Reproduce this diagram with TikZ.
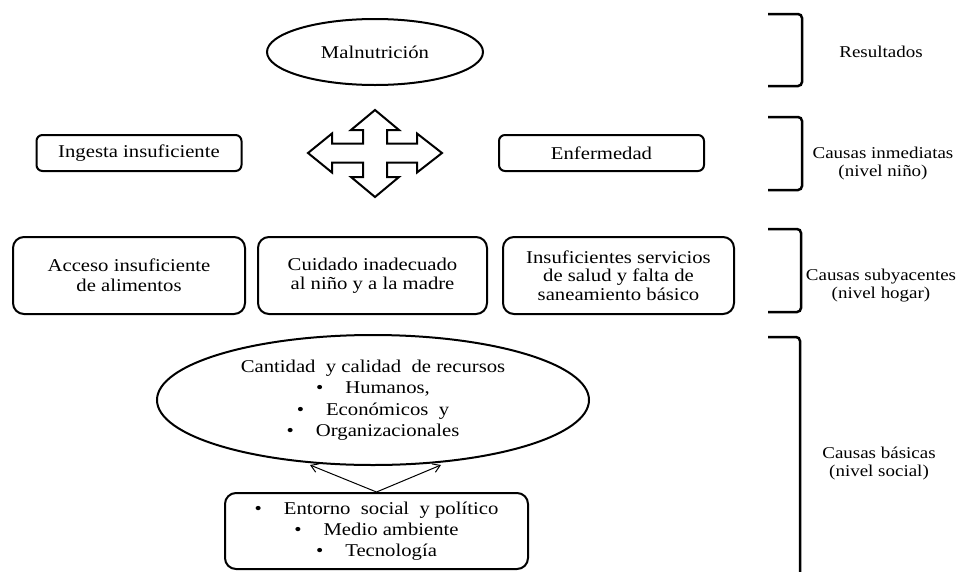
\documentclass[tikz,border=0pt]{standalone}
\usepackage{fontspec}
\setmainfont{Liberation Serif}[FakeStretch=1.15]
\usetikzlibrary{shapes.geometric,arrows.meta}
\begin{document}
\begin{tikzpicture}[x=1pt,y=-1pt,
  every node/.style={font=\fontsize{18}{19}\selectfont, align=center, inner sep=0pt},
  lbox/.style={draw, line width=2pt, rounded corners=6pt},
  bbox/.style={draw, line width=2pt, rounded corners=11pt},
  oval/.style={draw, ellipse, line width=2pt},
  brk/.style={line width=2.5pt, rounded corners=4pt},
  side/.style={font=\fontsize{16.5}{18}\selectfont},
  conn/.style={line width=1pt, -{Straight Barb[length=7pt,width=9pt]}}
]
\useasboundingbox (0,0) rectangle (958,571);

% top ellipse
\node[oval, minimum width=216pt, minimum height=66pt] (mal) at (375,52) {Malnutrición};

% level 2
\node[lbox, minimum width=205pt, minimum height=36pt] (ing) at (139,153) {Ingesta insuficiente};
\node[lbox, minimum width=205pt, minimum height=36pt] (enf) at (601.5,153) {Enfermedad};

% four-way arrow
\draw[line width=2pt, line join=miter]
 (375,110) -- (399,130) -- (387,130) -- (387,143.5) -- (417,143.5) -- (417,133.5) -- (442,153)
 -- (417,172.5) -- (417,162.5) -- (387,162.5) -- (387,177) -- (399,177) -- (375,197)
 -- (351,177) -- (363,177) -- (363,162.5) -- (332,162.5) -- (332,172.5) -- (308,153)
 -- (332,133.5) -- (332,143.5) -- (363,143.5) -- (363,130) -- (351,130) -- cycle;

% level 3
\node[bbox, minimum width=232pt, minimum height=77pt, font=\fontsize{18}{20}\selectfont] (acc) at (129,275.5) {Acceso insuficiente\\de alimentos};
\node[bbox, minimum width=229pt, minimum height=77pt, font=\fontsize{18}{19}\selectfont] (cui) at (372.5,275.5) {Cuidado inadecuado\\al niño y a la madre};
\node[bbox, minimum width=231pt, minimum height=77pt, font=\fontsize{18}{18.3}\selectfont] (ins) at (618.5,275.5) {Insuficientes servicios\\de salud y falta de\\saneamiento básico};

% basic causes
\node[oval, minimum width=432pt, minimum height=130pt, font=\fontsize{18}{21.5}\selectfont] (rec) at (373,400) {Cantidad\ \ y calidad\ \ de recursos\\\textbullet\hspace{22pt}Humanos,\\\textbullet\hspace{22pt}Económicos\ \ y\\\textbullet\hspace{22pt}Organizacionales};

\node[bbox, minimum width=303pt, minimum height=76pt, font=\fontsize{18}{21}\selectfont] (ent) at (376.5,531) {\textbullet\hspace{22pt}Entorno\ \ social\ \ y político\\\textbullet\hspace{22pt}Medio ambiente\\\textbullet\hspace{22pt}Tecnología};

\coordinate (tipL) at (310,465);
\coordinate (tipR) at (441,465);
\draw[conn] (ent.north) -- (tipL);
\draw[conn] (ent.north) -- (tipR);

% brackets
\draw[brk] (768,14) -- (802,14) -- (802,86) -- (768,86);
\draw[brk] (768,117) -- (802,117) -- (802,190) -- (768,190);
\draw[brk] (768,229) -- (801,229) -- (801,312) -- (768,312);
\draw[brk] (768,337) -- (800,337) -- (800,580);

% right labels
\node[side] (r1) at (881,52) {Resultados};
\node[side] (r2) at (883,164) {Causas inmediatas\\(nivel niño)};
\node[side] (r3) at (881,286) {Causas subyacentes\\(nivel hogar)};
\node[side] (r4) at (879,464) {Causas básicas\\(nivel social)};
\end{tikzpicture}
\end{document}
